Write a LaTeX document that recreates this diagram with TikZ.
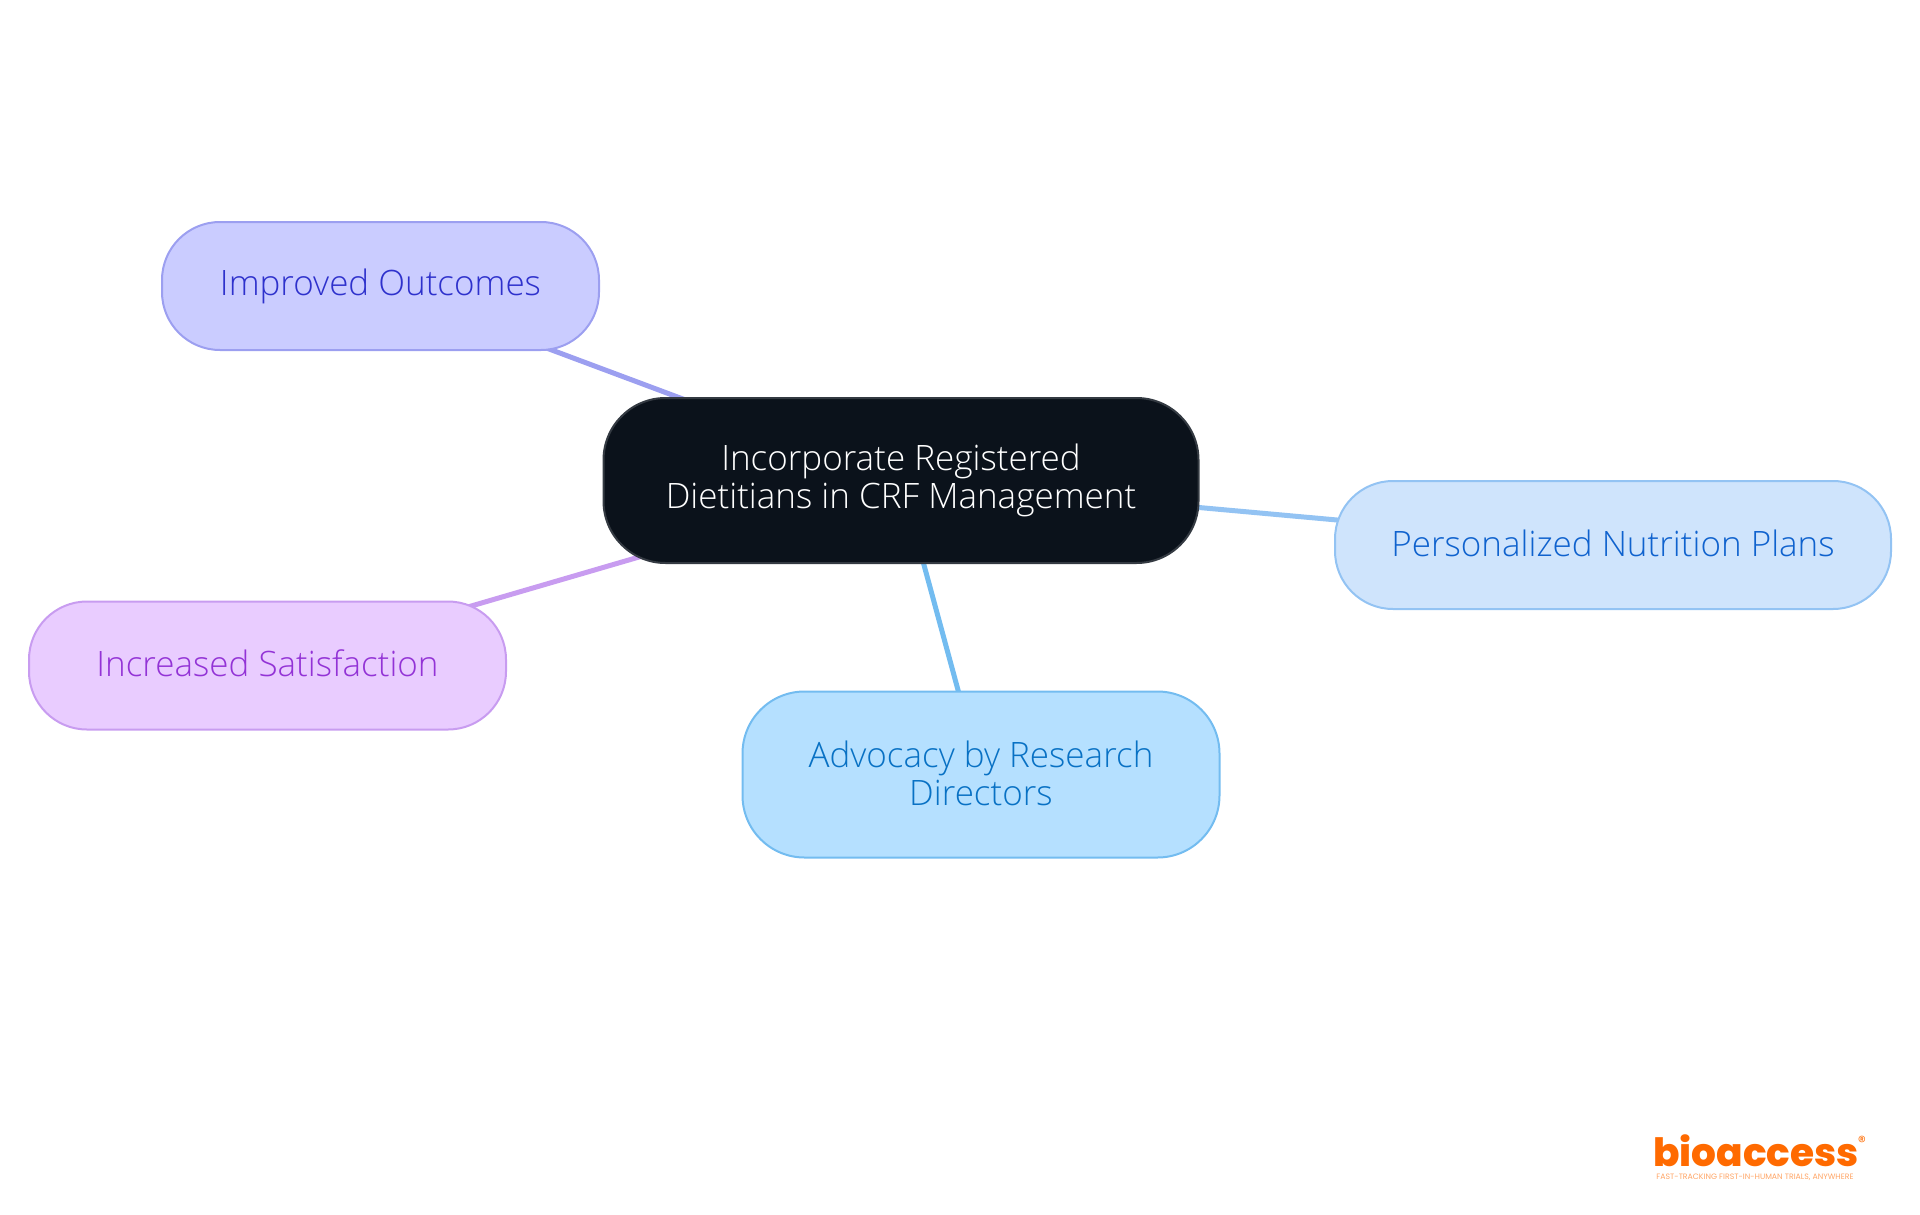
\documentclass[tikz,border=0pt]{standalone}
\usepackage{fontspec}
\setmainfont{Open Sans Light}
\newfontfamily\logofont{Poppins}
\newfontfamily\logoheavy{Poppins ExtraBold}
\usetikzlibrary{backgrounds}

\definecolor{hubfill}{HTML}{0B121B}
\definecolor{hubline}{HTML}{343A42}
\definecolor{outfill}{HTML}{CACCFF}
\definecolor{outline}{HTML}{9C9FF0}
\definecolor{outtext}{HTML}{2E31CC}
\definecolor{planfill}{HTML}{CFE4FC}
\definecolor{planline}{HTML}{93C3F3}
\definecolor{plantext}{HTML}{0F62CE}
\definecolor{advfill}{HTML}{B5E0FF}
\definecolor{advline}{HTML}{73BCF0}
\definecolor{advtext}{HTML}{0871C4}
\definecolor{satfill}{HTML}{E9CCFF}
\definecolor{satline}{HTML}{C89CF0}
\definecolor{sattext}{HTML}{9333D6}
\definecolor{logoorange}{HTML}{FF6A00}

\begin{document}
\begin{tikzpicture}[
    x=1pt, y=-1pt,
    font=\fontsize{35}{38}\selectfont,
    box/.style={draw, line width=2pt, rounded corners=58pt, inner sep=0pt,
                align=center},
    link/.style={line width=5pt},
  ]
  \useasboundingbox (0,0) rectangle (1920,1215);

  % centre and the four topics
  \node[box, fill=hubfill, draw=hubline, text=white, rounded corners=62pt,
        minimum width=595pt, minimum height=165pt] (hub) at (901,480.5)
    {Incorporate Registered\\Dietitians in CRF Management};
  \node[box, fill=outfill, draw=outline, text=outtext,
        minimum width=437pt, minimum height=128pt] (outcomes) at (380.5,286)
    {\raisebox{1.5pt}{Improved Outcomes}};
  \node[box, fill=planfill, draw=planline, text=plantext,
        minimum width=556pt, minimum height=128pt] (plans) at (1613,545)
    {\raisebox{4pt}{Personalized Nutrition Plans}};
  \node[box, fill=advfill, draw=advline, text=advtext, rounded corners=62pt,
        minimum width=477pt, minimum height=166pt] (advocacy) at (981,774.5)
    {\raisebox{2.5pt}{Advocacy by Research}\\\raisebox{2.5pt}{Directors}};
  \node[box, fill=satfill, draw=satline, text=sattext,
        minimum width=477pt, minimum height=128pt] (satisfaction) at (267.5,665.5)
    {\raisebox{4pt}{Increased Satisfaction}};

  % spokes run under the boxes
  \begin{pgfonlayer}{background}
    \draw[link, outline] (hub.center) -- (outcomes.center);
    \draw[link, planline] (hub.center) -- (plans.center);
    \draw[link, advline] (hub.center) -- (advocacy.center);
    \draw[link, satline] (hub.center) -- (satisfaction.center);
  \end{pgfonlayer}

  % logo
  \node[text=logoorange, inner sep=0pt, font=\logoheavy\fontsize{39}{40}\selectfont]
    (logo) at (1756,1151) {bioaccess};
  \node[text=logoorange, inner sep=0pt, font=\logofont\fontsize{16}{16}\selectfont]
    (mark) at (1862,1142) {®};
  \node[text=logoorange!60, inner sep=0pt, font=\logofont\fontsize{7.8}{8}\selectfont]
    (tagline) at (1755,1177) {FAST-TRACKING FIRST-IN-HUMAN TRIALS, ANYWHERE};
\end{tikzpicture}
\end{document}
